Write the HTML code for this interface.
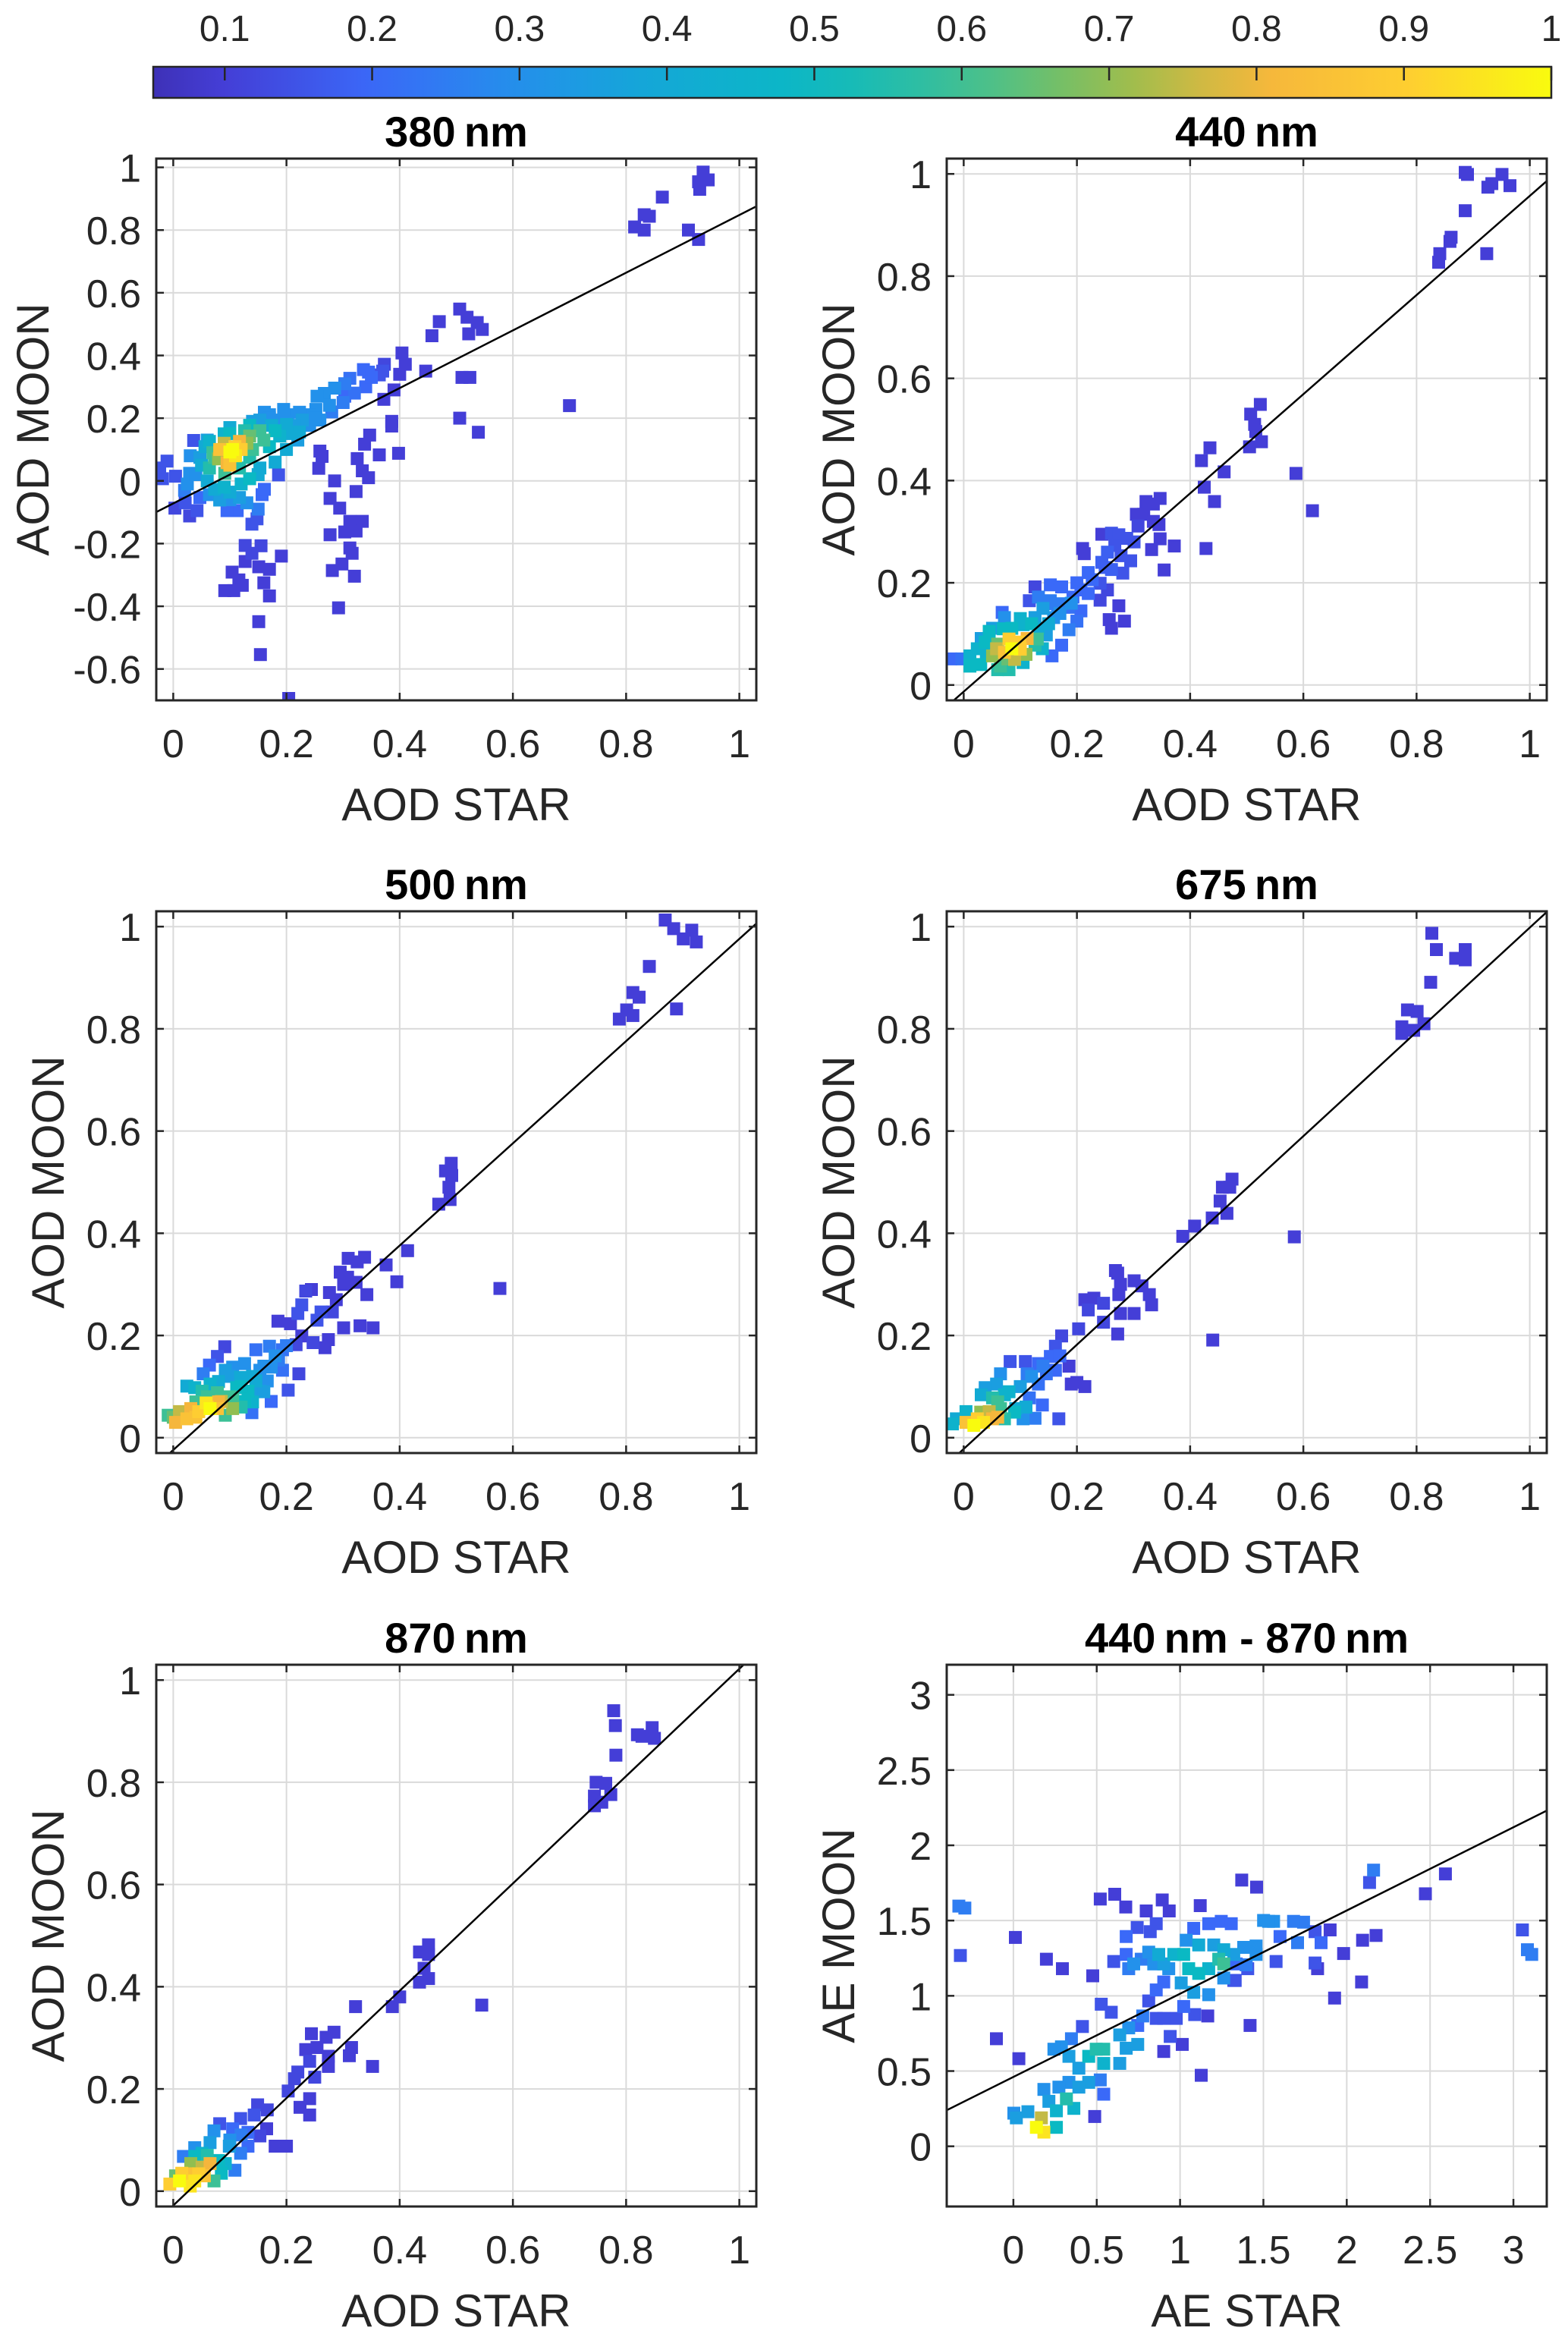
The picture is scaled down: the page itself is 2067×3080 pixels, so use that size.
<!DOCTYPE html>
<html><head><meta charset="utf-8"><title>AOD moon vs star</title>
<style>
html,body{margin:0;padding:0;background:#fff;}
svg{display:block;font-family:"Liberation Sans",Arial,sans-serif;}
</style></head>
<body>
<svg id="fig" width="2067" height="3080" viewBox="0 0 2067 3080" xmlns="http://www.w3.org/2000/svg"></svg>
<script>
// ---- data arrays (value, value, density) ----
const pts380 = [[.936,.985,.1],[.945,.96,.1],[.928,.954,.1],[.93,.93,.1],[.864,.905,.1],[.832,.849,.1],[.841,.844,.1],[.815,.81,.1],[.832,.80,.1],[.91,.80,.1],[.928,.77,.1],
[.506,.548,.1],[.519,.522,.1],[.537,.505,.1],[.546,.483,.1],[.47,.508,.1],[.457,.463,.1],[.522,.469,.1],[.446,.35,.1],[.51,.33,.1],[.524,.33,.1],[.70,.24,.1],[.506,.20,.1],[.539,.155,.1],
[.404,.408,.1],[.41,.372,.1],[.40,.34,.1],[.39,.29,.1],[.372,.26,.1],[.386,.19,.1],[.386,.175,.1],[.347,.146,.1],[.338,.117,.1],[.325,.071,.1],[.398,.088,.1],[.364,.083,.1],[.259,.095,.1],[.263,.078,.1],[.257,.04,.1],[.285,0,.1],[.334,.032,.1],[.345,.01,.1],[.323,-.034,.1],[.277,-.056,.1],[.294,-.087,.1],[.312,-.129,.1],[.334,-.129,.1],[.303,-.163,.1],[.323,-.16,.1],[.277,-.172,.1],[.312,-.214,.1],[.316,-.231,.1],[.298,-.265,.1],[.281,-.286,.1],[.32,-.304,.1],[.292,-.405,.1],
[.191,-.24,.1],[.186,.019,.15],[.155,-.207,.12],[.139,-.231,.12],[.127,-.206,.12],[.127,-.257,.1],[.151,-.274,.1],[.17,-.282,.1],[.16,-.325,.1],[.17,-.367,.1],[.151,-.449,.1],[.154,-.554,.1],[.204,-.694,.1],[.104,-.291,.1],[.116,-.316,.1],[.091,-.35,.1],[.107,-.35,.1],[.122,-.333,.1],
[.139,-.138,.15],[.148,-.121,.15],[.113,-.095,.2],[.095,-.095,.2],[.157,-.044,.2],[.161,-.027,.2],[.042,-.095,.15],[.029,-.112,.12],[.003,-.087,.12],[.021,-.07,.15],[.047,-.053,.2],[-.019,.007,.15],[-.024,.041,.15],[-.011,.063,.15],[.004,.015,.15],[.036,.129,.15],
[.373,.372,.12],[.364,.338,.15],[.345,.347,.2],[.336,.355,.2],[.312,.327,.22],[.303,.31,.25],[.285,.296,.3],[.267,.279,.3],[.254,.27,.3],[.303,.27,.2],[.276,.241,.3],[.252,.228,.3],[.241,.211,.3],[.228,.194,.35],[.214,.177,.35],[.202,.211,.3],[.19,.194,.3],[.17,.211,.3],[.153,.194,.35],[.135,.177,.5],
[.10,.092,1],[.109,.109,.9],[.082,.1,.85],[.117,.126,.8],[.135,.143,.65],[.153,.16,.6],[.095,.058,.8],[.073,.075,.6],[.064,.041,.55],[.091,.024,.6],[.117,.041,.55],[.135,.075,.55],[.17,.109,.5],[.188,.143,.45],[.206,.151,.4],[.223,.156,.4],[.047,.075,.35],[.056,.109,.4],[.073,-.027,.4],[.1,-.036,.4],[.117,-.053,.35],[.082,-.061,.35],[.135,.007,.5],[.153,.041,.4],[.029,.024,.3],[.025,-.01,.3],[.064,.126,.45],[.1,.151,.5],[.126,.16,.55],[.174,.177,.4],[.161,.219,.3],[.195,.228,.3],[.223,.219,.3],[.241,.177,.3],[.259,.194,.3],[.064,-.044,.3],
[.05,.05,.4],[.08,.07,.7],[.11,.08,.95],[.12,.1,.9],[.09,.12,.75],[.13,.12,.7],[.14,.1,.6],[.07,.09,.6],[.06,.0,.4],[.09,-.02,.45],[.12,-.01,.45],[.15,.02,.4],[.18,.06,.4],[.2,.1,.4],[.22,.13,.35],[.16,.13,.6],[.18,.16,.5],[.2,.18,.4],[.25,.2,.3],[.28,.22,.25],[.3,.25,.25],[.32,.28,.22],[.34,.3,.2],[.02,-.03,.25],[.04,.02,.3],[.1,-.06,.3],[.13,-.07,.3],[.15,-.09,.25],[.03,.08,.3],[.06,.13,.35],[.09,.15,.45],[.1,.17,.4],[.14,.19,.35],[.17,.2,.3],[.35,.33,.2],[.37,.35,.15],[.1,.05,.85],[.105,.1,1]];

const pts440 = [[.886,1.003,.1],[.89,.999,.1],[.951,.999,.1],[.933,.981,.1],[.926,.974,.1],[.965,.977,.1],[.886,.928,.1],[.861,.876,.1],[.859,.868,.1],[.841,.844,.1],[.839,.827,.1],[.924,.844,.1],
[.524,.549,.1],[.507,.53,.1],[.514,.51,.1],[.516,.496,.1],[.526,.476,.1],[.505,.466,.1],[.435,.464,.1],[.42,.439,.1],[.46,.417,.1],[.587,.414,.1],[.425,.387,.1],[.443,.359,.1],[.616,.341,.1],
[.347,.365,.1],[.322,.359,.1],[.335,.354,.1],[.305,.334,.1],[.318,.334,.1],[.335,.32,.1],[.345,.314,.1],[.308,.311,.12],[.244,.295,.1],[.261,.297,.15],[.274,.294,.15],[.288,.287,.15],[.301,.28,.15],[.267,.273,.15],[.254,.26,.18],[.278,.253,.15],[.295,.243,.15],[.244,.24,.18],[.261,.226,.18],[.281,.219,.15],[.21,.267,.1],[.213,.257,.1],[.332,.265,.1],[.347,.286,.1],[.372,.272,.1],[.428,.267,.1],[.354,.225,.1],[.241,.199,.15],[.254,.186,.12],[.241,.166,.12],[.274,.155,.1],[.257,.128,.1],[.284,.125,.1],[.261,.111,.1],
[.207,.186,.2],[.193,.172,.2],[.173,.192,.2],[.153,.196,.2],[.126,.192,.12],[.186,.152,.22],[.166,.145,.25],[.146,.159,.25],[.227,.206,.2],[.22,.179,.2],[.207,.145,.2],[.2,.125,.22],[.186,.108,.25],[.173,.078,.2],[.156,.057,.2],[.116,.165,.15],[.068,.142,.2],[-.023,.051,.2],[-.003,.051,.22],
[.085,.071,1],[.099,.084,.9],[.072,.064,.85],[.112,.091,.8],[.058,.071,.75],[.051,.057,.7],[.078,.051,.65],[.065,.037,.6],[.126,.078,.55],[.038,.084,.5],[.024,.071,.45],[.011,.057,.45],[.011,.037,.5],[.045,.105,.5],[.085,.111,.5],[.105,.118,.45],[.132,.111,.4],[.146,.098,.35],[.139,.071,.45],[.105,.044,.45],[.126,.132,.35],[.159,.132,.3],[.072,.132,.3],[.051,.111,.35],[.031,.091,.35],[.153,.165,.25],[.173,.159,.25],[.132,.172,.25],
[.06,.08,.65],[.08,.09,.9],[.1,.07,.9],[.09,.05,.75],[.11,.06,.7],[.13,.09,.6],[.12,.12,.5],[.1,.13,.45],[.07,.11,.5],[.04,.06,.45],[.03,.04,.5],[.06,.03,.55],[.15,.12,.4],[.17,.14,.3],[.19,.16,.3],[.14,.15,.35],[.2,.2,.2],[.22,.22,.2],[.25,.23,.18],[.08,.03,.55]];

const pts500 = [[.869,1.013,.1],[.884,.996,.1],[.916,.993,.1],[.901,.976,.1],[.924,.97,.1],[.841,.922,.1],[.812,.871,.1],[.823,.862,.1],[.801,.837,.1],[.788,.819,.1],[.812,.826,.1],[.889,.839,.1],
[.491,.537,.1],[.481,.522,.1],[.492,.513,.1],[.487,.49,.1],[.489,.466,.1],[.469,.457,.1],[.414,.366,.1],[.376,.338,.1],[.395,.305,.1],[.577,.292,.1],[.342,.28,.1],[.338,.353,.1],[.309,.351,.1],[.325,.344,.1],[.295,.324,.1],[.308,.314,.1],[.323,.304,.1],[.301,.3,.1],[.244,.29,.1],[.234,.287,.12],[.276,.284,.1],[.288,.27,.1],[.227,.26,.15],[.261,.246,.15],[.22,.243,.15],[.281,.246,.12],[.254,.23,.15],[.207,.223,.1],[.185,.228,.1],[.301,.215,.1],[.33,.219,.1],[.353,.215,.1],[.227,.199,.1],[.247,.186,.12],[.274,.192,.1],[.268,.176,.1],[.217,.182,.12],
[.091,.178,.12],[.078,.159,.15],[.064,.142,.2],[.053,.125,.25],[.222,.125,.12],[.203,.093,.15],[.173,.071,.2],[.139,.049,.22],[.146,.172,.22],[.17,.179,.25],[.193,.172,.22],[.186,.152,.25],[.193,.132,.22],[.173,.138,.3],[.105,.138,.3],[.126,.145,.3],[.153,.132,.3],[.166,.111,.3],
[.092,.132,.35],[.119,.118,.4],[.146,.111,.4],[.153,.091,.35],[.132,.091,.5],[.112,.098,.5],[.065,.105,.45],[.038,.098,.45],[.024,.101,.4],[.051,.091,.55],[.078,.088,.6],[.126,.071,.5],[.105,.057,.7],[.092,.044,.6],[.065,.057,1],[.058,.068,.95],[.045,.051,.9],[.031,.057,.8],[.011,.051,.75],[-.009,.044,.6],[.004,.03,.8],[.024,.037,.85],[.078,.057,.85],[.085,.071,.75],[.105,.078,.6],
[.02,.05,.75],[.04,.04,.85],[.06,.06,.9],[.08,.07,.8],[.1,.08,.6],[.12,.1,.5],[.14,.12,.4],[.16,.14,.3],[.18,.16,.3],[.2,.18,.25],[.1,.12,.35],[.08,.11,.4],[.06,.08,.6],[.04,.07,.6],[.0,.04,.65],[.12,.06,.55],[.14,.07,.45],[.16,.09,.35]];

const pts675 = [[.827,.987,.1],[.835,.955,.1],[.886,.955,.1],[.869,.938,.1],[.886,.935,.1],[.825,.891,.1],[.784,.837,.1],[.801,.834,.1],[.813,.81,.1],[.774,.804,.1],[.795,.797,.1],[.774,.791,.1],
[.474,.506,.1],[.457,.49,.1],[.47,.49,.1],[.453,.463,.1],[.465,.439,.1],[.439,.43,.1],[.408,.414,.1],[.387,.394,.1],[.584,.393,.1],[.44,.191,.1],
[.268,.327,.1],[.272,.322,.1],[.277,.3,.1],[.301,.307,.1],[.315,.297,.1],[.328,.28,.1],[.332,.26,.1],[.274,.28,.1],[.214,.27,.1],[.23,.273,.1],[.247,.263,.12],[.277,.243,.1],[.301,.243,.1],[.22,.25,.12],[.247,.226,.12],[.272,.203,.1],[.203,.213,.12],[.173,.199,.12],[.162,.179,.15],[.186,.14,.1],[.19,.105,.1],[.214,.1,.1],[.2,.108,.1],
[.082,.149,.15],[.109,.149,.15],[.132,.145,.2],[.153,.159,.2],[.162,.132,.2],[.146,.125,.22],[.112,.125,.25],[.132,.105,.22],[.116,.078,.22],[.139,.064,.2],[.168,.037,.15],[.126,.038,.25],[.105,.037,.3],[.065,.125,.3],[.058,.105,.35],[.038,.098,.35],[.031,.084,.4],[.072,.084,.45],[.092,.057,.4],[.051,.078,.55],[.065,.057,.6],[.045,.051,.75],[.024,.037,.9],[.018,.024,1],[.004,.03,.85],[.051,.037,.8],[.072,.037,.55],[.004,.051,.45],[-.02,.027,.45],[-.013,.037,.4],
[.03,.05,.7],[.06,.07,.6],[.08,.09,.45],[.1,.1,.35],[.12,.12,.3],[.14,.14,.25],[.17,.16,.2],[.035,.03,.95],[.06,.04,.8],[.09,.05,.5],[.11,.06,.4]];

const pts870 = [[.778,.94,.1],[.781,.911,.1],[.82,.893,.1],[.828,.89,.1],[.846,.907,.1],[.85,.886,.1],[.782,.853,.1],[.747,.8,.1],[.764,.798,.1],[.773,.776,.1],[.744,.773,.1],[.744,.754,.1],[.757,.761,.1],
[.451,.482,.1],[.435,.468,.1],[.451,.463,.1],[.443,.436,.1],[.451,.416,.1],[.435,.409,.1],[.4,.38,.1],[.387,.361,.1],[.322,.361,.1],[.545,.364,.1],[.352,.244,.1],[.244,.308,.1],[.284,.311,.1],[.27,.301,.1],[.315,.281,.1],[.311,.265,.1],[.234,.277,.1],[.254,.281,.1],[.274,.264,.1],[.241,.254,.12],[.274,.244,.1],[.25,.223,.12],[.22,.233,.12],[.214,.22,.12],[.203,.196,.12],[.241,.181,.1],[.224,.164,.1],[.241,.149,.1],[.18,.088,.1],[.2,.088,.1],[.165,.122,.1],[.149,.169,.12],[.166,.159,.12],[.143,.149,.15],[.153,.108,.12],
[.082,.132,.15],[.119,.142,.15],[.105,.122,.2],[.132,.115,.2],[.132,.088,.2],[.119,.074,.25],[.109,.041,.25],[.072,.118,.3],[.065,.095,.35],[.038,.085,.3],[.018,.068,.25],[.051,.074,.45],[.099,.088,.35],[.092,.054,.45],[.072,.02,.6],[.038,.068,.5],[.051,.047,.75],[.065,.054,.8],[.031,.054,.7],[.024,.034,.85],[.038,.02,.95],[.011,.02,1],[-.006,.014,.9],[.004,.03,.65],[.045,.034,.9],
[.06,.07,.55],[.08,.06,.5],[.1,.1,.3],[.12,.11,.25],[.015,.035,.9],[.03,.01,.95],[.055,.03,.85],[.085,.035,.5]];

const ptsAE = [[-.327,1.596,.25],[-.291,1.583,.25],[-.318,1.268,.15],[.012,1.388,.1],[-.102,.715,.1],[.033,.582,.1],[.198,1.243,.1],[.294,1.18,.1],[.476,1.133,.1],[.521,1.643,.1],[.608,1.675,.1],[.674,1.59,.1],[.797,1.564,.1],[.893,1.637,.1],[.935,1.564,.1],[.857,1.479,.15],[.821,1.426,.15],[.743,1.454,.15],[.677,1.394,.2],[1.121,1.599,.1],[1.37,1.769,.1],[1.459,1.722,.1],[2.161,1.835,.25],[2.137,1.753,.15],[2.472,1.678,.1],[2.592,1.81,.1],[3.054,1.438,.15],[3.084,1.306,.25],[3.11,1.275,.25],[2.176,1.401,.1],[2.095,1.369,.1],[2.089,1.092,.1],[1.927,.985,.1],[1.981,1.281,.1],[1.9,1.438,.1],[1.81,1.426,.15],[1.846,1.353,.2],[1.81,1.218,.15],[1.825,1.18,.1],[1.741,1.489,.25],[1.681,1.495,.25],[1.705,1.353,.25],[1.576,1.228,.15],[1.6,1.394,.2],[1.501,1.501,.3],[1.561,1.495,.3],[1.456,1.331,.3],[1.397,1.206,.25],[1.331,1.102,.15],[1.42,.803,.1],[1.166,.866,.1],[1.127,.472,.1],[1.013,.677,.1],[.941,.73,.15],[.902,.63,.1],[1.088,.875,.15],[1.022,.929,.2],[.977,.85,.15],[.812,.966,.15],[.857,1.039,.2],[.902,1.092,.2],[.857,.85,.15],[.902,.85,.15],[.746,.803,.2],[.776,.866,.25],[.692,.787,.3],[.638,.74,.35],[.746,.677,.35],[.677,.652,.35],[.638,.551,.35],[.542,.551,.45],[.497,.645,.55],[.452,.598,.5],[.542,.645,.55],[.393,.519,.35],[.333,.598,.35],[.288,.661,.3],[.243,.645,.3],[.348,.715,.25],[.414,.796,.15],[.527,.944,.15],[.587,.891,.15],[.521,.441,.25],[.542,.346,.2],[.452,.425,.35],[.393,.393,.35],[.333,.425,.3],[.273,.393,.3],[.183,.378,.3],[.213,.299,.35],[.318,.315,.55],[.363,.252,.45],[.258,.236,.45],[.488,.198,.1],[.003,.22,.3],[.087,.23,.35],[.018,.189,.35],[.168,.189,.75],[.138,.126,1],[.183,.094,.95],[.258,.126,.5],
[1.037,1.369,.3],[1.082,1.448,.2],[1.172,1.479,.2],[1.247,1.495,.2],[1.307,1.479,.2],[.962,1.275,.45],[1.022,1.275,.5],[1.112,1.338,.4],[1.202,1.338,.35],[1.262,1.306,.4],[1.322,1.275,.35],[1.382,1.322,.3],[1.052,1.18,.5],[1.112,1.149,.5],[1.172,1.18,.45],[1.262,1.212,.6],[1.232,1.243,.55],[1.007,1.086,.35],[1.082,1.023,.35],[1.172,1.007,.3],[.902,1.212,.35],[.842,1.212,.3],[.767,1.243,.25],[.722,1.212,.3],[.692,1.18,.25],[.602,1.228,.15],[.677,1.275,.2],[.812,1.29,.3],[.872,1.275,.4],[.932,1.18,.3],[1.337,1.212,.2],[1.406,1.18,.15],[1.322,1.102,.15],[1.262,1.118,.3],[1.456,1.275,.3],[1.531,1.495,.3]];

// fit lines: [slope, intercept]
const fit380 = [0.92, -0.072];
const fit440 = [0.97, -0.013];
const fit500 = [1.0, -0.024];
const fit675 = [1.02, -0.022];
const fit870 = [1.05, -0.028];
const fitAE = [0.553, 0.461];

const aodTicks = [0, 0.2, 0.4, 0.6, 0.8, 1];
const aodTickLabels = ["0", "0.2", "0.4", "0.6", "0.8", "1"];
const ticks380Y = [-0.6, -0.4, -0.2, 0, 0.2, 0.4, 0.6, 0.8, 1];
const labels380Y = ["-0.6", "-0.4", "-0.2", "0", "0.2", "0.4", "0.6", "0.8", "1"];
const aeTicks = [0, 0.5, 1, 1.5, 2, 2.5, 3];
const aeTickLabels = ["0", "0.5", "1", "1.5", "2", "2.5", "3"];
const cbTicks = [0.1, 0.2, 0.3, 0.4, 0.5, 0.6, 0.7, 0.8, 0.9, 1];
const cbTickLabels = ["0.1", "0.2", "0.3", "0.4", "0.5", "0.6", "0.7", "0.8", "0.9", "1"];

// ---- rendering ----
const NS = "http://www.w3.org/2000/svg";
const svg = document.getElementById("fig");
function mk(tag, attrs, parent) {
  const e = document.createElementNS(NS, tag);
  for (const k in attrs) e.setAttribute(k, attrs[k]);
  (parent || svg).appendChild(e);
  return e;
}
const stops = [[0,[55,36,150]],[0.1,[68,62,215]],[0.2,[58,105,248]],[0.3,[35,145,235]],[0.4,[18,170,212]],[0.5,[10,185,195]],[0.6,[60,192,150]],[0.7,[145,190,80]],[0.8,[245,182,60]],[0.9,[254,205,50]],[1,[249,251,14]]];
function parula(t) {
  t = Math.max(0, Math.min(1, t));
  for (let i = 1; i < stops.length; i++) {
    if (t <= stops[i][0]) {
      const a = stops[i-1], b = stops[i], f = (t - a[0]) / (b[0] - a[0]);
      const c = a[1].map((v, j) => Math.round(v + (b[1][j] - v) * f));
      return "rgb(" + c.join(",") + ")";
    }
  }
  return "rgb(249,251,14)";
}

// colorbar
const CB = {x0: 202, x1: 2045, y0: 88, y1: 129, vmin: 0.0515, vmax: 1};
const cbScale = v => CB.x0 + (v - CB.vmin) / (CB.vmax - CB.vmin) * (CB.x1 - CB.x0);
const defs = mk("defs", {});
const grad = mk("linearGradient", {id: "cbgrad", x1: "0", x2: "1", y1: "0", y2: "0"}, defs);
for (let i = 0; i <= 20; i++) {
  const v = CB.vmin + (CB.vmax - CB.vmin) * i / 20;
  mk("stop", {offset: (i / 20).toFixed(3), "stop-color": parula(v)}, grad);
}
const cbG = mk("g", {});


mk("rect", {x: CB.x0, y: CB.y0, width: CB.x1 - CB.x0, height: CB.y1 - CB.y0, fill: "url(#cbgrad)", stroke: "#262626", "stroke-width": 2.5}, cbG);
cbTicks.forEach((v, i) => {
  const x = cbScale(v);
  mk("line", {x1: x, x2: x, y1: CB.y0, y2: CB.y0 + 18, stroke: "#262626", "stroke-width": 2.5}, cbG);
  const t = mk("text", {x: x, y: 54, "text-anchor": "middle", "font-size": 48, fill: "#262626"}, cbG);
  t.textContent = cbTickLabels[i];
  
  
});

function panel(cfg) {
  const {L, T, W, H, xmin, xmax, ymin, ymax} = cfg;
  const sx = v => L + (v - xmin) / (xmax - xmin) * W;
  const sy = v => T + H - (v - ymin) / (ymax - ymin) * H;
  const g = mk("g", {});
  
  
  const clipId = "clip-" + cfg.name;
  const cp = mk("clipPath", {id: clipId}, defs);
  mk("rect", {x: L, y: T, width: W, height: H}, cp);
  cfg.xt.forEach(v => mk("line", {x1: sx(v), x2: sx(v), y1: T, y2: T + H, stroke: "#dadada", "stroke-width": 2}, g));
  cfg.yt.forEach(v => mk("line", {x1: L, x2: L + W, y1: sy(v), y2: sy(v), stroke: "#dadada", "stroke-width": 2}, g));
  const pg = mk("g", {"clip-path": "url(#" + clipId + ")"}, g);
  const sorted = cfg.pts.slice().sort((a, b) => a[2] - b[2]);
  const s = 17;
  sorted.forEach(p => {
    const r = mk("rect", {x: (sx(p[0]) - s / 2).toFixed(1), y: (sy(p[1]) - s / 2).toFixed(1), width: s, height: s, fill: parula(p[2])}, pg);
    
    
  });
  const [m, b] = cfg.fit;
  const fl = mk("line", {x1: sx(xmin), y1: sy(m * xmin + b), x2: sx(xmax), y2: sy(m * xmax + b), stroke: "#000", "stroke-width": 2.5, "clip-path": "url(#" + clipId + ")"}, g);
  
  
  const bx = mk("rect", {x: L, y: T, width: W, height: H, fill: "none", stroke: "#262626", "stroke-width": 3}, g);
  
  
  cfg.xt.forEach((v, i) => {
    const x = sx(v);
    mk("line", {x1: x, x2: x, y1: T + H, y2: T + H - 10, stroke: "#262626", "stroke-width": 2.5}, g);
    mk("line", {x1: x, x2: x, y1: T, y2: T + 10, stroke: "#262626", "stroke-width": 2.5}, g);
    const t = mk("text", {x: x, y: T + H + 75, "text-anchor": "middle", "font-size": 52, fill: "#262626"}, g);
    t.textContent = cfg.xl[i];
    
    
  });
  cfg.yt.forEach((v, i) => {
    const y = sy(v);
    mk("line", {x1: L, x2: L + 10, y1: y, y2: y, stroke: "#262626", "stroke-width": 2.5}, g);
    mk("line", {x1: L + W, x2: L + W - 10, y1: y, y2: y, stroke: "#262626", "stroke-width": 2.5}, g);
    const t = mk("text", {x: L - 20, y: y + 19, "text-anchor": "end", "font-size": 52, fill: "#262626"}, g);
    t.textContent = cfg.yl[i];
    
    
  });
  const xt = mk("text", {x: L + W / 2, y: T + H + 158, "text-anchor": "middle", "font-size": 60, fill: "#262626"}, g);
  xt.textContent = cfg.xlabel;
  
  
  const yx = L - cfg.ylOff, yy = T + H / 2;
  const yt = mk("text", {x: yx, y: yy + 21, "text-anchor": "middle", "font-size": 60, fill: "#262626", transform: "rotate(-90 " + yx + " " + yy + ")"}, g);
  yt.textContent = cfg.ylabel;
  
  
  const tt = mk("text", {x: L + W / 2, y: T - 16, "text-anchor": "middle", "font-size": 56, "font-weight": "bold", fill: "#000"}, g);
  tt.textContent = cfg.title;
  
  
}

const W = 791, H = 714;
const base = {W, H, xmin: -0.03, xmax: 1.03, ymin: -0.03, ymax: 1.03, xt: aodTicks, xl: aodTickLabels, yt: aodTicks, yl: aodTickLabels, xlabel: "AOD STAR", ylabel: "AOD MOON", ylOff: 143};
panel(Object.assign({}, base, {name: "panel-380nm", L: 206, T: 209, ymin: -0.70, ymax: 1.028, yt: ticks380Y, yl: labels380Y, pts: pts380, fit: fit380, title: "380\u2009nm", ylOff: 163}));
panel(Object.assign({}, base, {name: "panel-440nm", L: 1248, T: 209, pts: pts440, fit: fit440, title: "440\u2009nm"}));
panel(Object.assign({}, base, {name: "panel-500nm", L: 206, T: 1201, pts: pts500, fit: fit500, title: "500\u2009nm"}));
panel(Object.assign({}, base, {name: "panel-675nm", L: 1248, T: 1201, pts: pts675, fit: fit675, title: "675\u2009nm"}));
panel(Object.assign({}, base, {name: "panel-870nm", L: 206, T: 2194, pts: pts870, fit: fit870, title: "870\u2009nm"}));
panel(Object.assign({}, base, {name: "panel-ae", L: 1248, T: 2194, xmin: -0.4, xmax: 3.2, ymin: -0.4, ymax: 3.2, xt: aeTicks, xl: aeTickLabels, yt: aeTicks, yl: aeTickLabels, xlabel: "AE STAR", ylabel: "AE MOON", pts: ptsAE, fit: fitAE, title: "440\u2009nm - 870\u2009nm"}));
</script>
</body></html>
